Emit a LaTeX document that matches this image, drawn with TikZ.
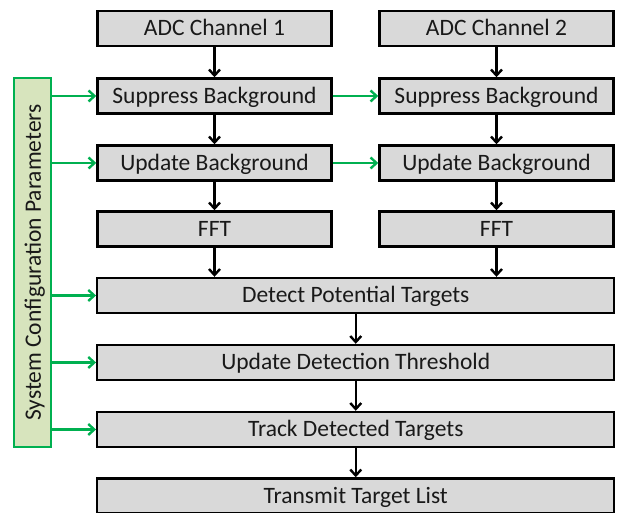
\documentclass[tikz,border=0pt]{standalone}
\usepackage{fontspec}
\setmainfont{Carlito}
\usetikzlibrary{arrows.meta}
\definecolor{boxgray}{HTML}{D9D9D9}
\definecolor{cfggreen}{HTML}{00B050}
\definecolor{cfgfill}{HTML}{D7E4BD}
\tikzset{
  x=1pt, y=1pt,
  txt/.style={font=\fontsize{23.5}{27}\selectfont, text=black!90, text height=17.4pt, text depth=2.4pt},
  proc/.style={draw=black, fill=boxgray, line width=2.4pt, rectangle, minimum height=35pt, inner sep=0pt, txt},
  narrow/.style={proc, minimum width=234pt},
  wide/.style={proc, minimum width=517pt},
  blk/.style={draw=black, line width=2.4pt, -{Straight Barb[length=6pt,width=11pt,line width=2.4pt]}},
  grn/.style={draw=cfggreen, line width=2.4pt, -{Straight Barb[length=6pt,width=11pt,line width=2.4pt]}},
}
\begin{document}
\begin{tikzpicture}
\useasboundingbox (0,0) rectangle (633,513);
\node[narrow] (adc1) at (214.5,484.5) {ADC Channel 1};
\node[narrow] (adc2) at (496.5,484.5) {ADC Channel 2};
\node[narrow] (sup1) at (214.5,417) {Suppress Background};
\node[narrow] (sup2) at (496.5,417) {Suppress Background};
\node[narrow] (upd1) at (214.5,350) {Update Background};
\node[narrow] (upd2) at (496.5,350) {Update Background};
\node[narrow] (fft1) at (214.5,284) {FFT};
\node[narrow] (fft2) at (496.5,284) {FFT};
\node[wide] (det) at (355.75,217.5) {Detect Potential Targets};
\node[wide] (thr) at (355.75,150.5) {Update Detection Threshold};
\node[wide] (trk) at (355.75,83.5) {Track Detected Targets};
\node[wide] (tx) at (355.75,17) {Transmit Target List};
\node[draw=cfggreen, fill=cfgfill, line width=2.4pt, minimum width=36.5pt, minimum height=369.5pt, inner sep=0pt] (cfg) at (32.5,250.5) {};
\node[rotate=90, txt] (cfgtxt) at ([xshift=1pt]cfg.center) {System Configuration Parameters};
% black arrows
\draw[blk] (adc1) -- (sup1);
\draw[blk] (sup1) -- (upd1);
\draw[blk] (upd1) -- (fft1);
\draw[blk] (adc2) -- (sup2);
\draw[blk] (sup2) -- (upd2);
\draw[blk] (upd2) -- (fft2);
\draw[blk] (fft1.south) -- (fft1.south |- det.north);
\draw[blk] (fft2.south) -- (fft2.south |- det.north);
\draw[blk] (det) -- (thr);
\draw[blk] (thr) -- (trk);
\draw[blk] (trk) -- (tx);
% green arrows
\draw[grn] (cfg.east |- sup1.west) -- (sup1.west);
\draw[grn] (cfg.east |- upd1.west) -- (upd1.west);
\draw[grn] (cfg.east |- det.west) -- (det.west);
\draw[grn] (cfg.east |- thr.west) -- (thr.west);
\draw[grn] (cfg.east |- trk.west) -- (trk.west);
\draw[grn] (sup1.east) -- (sup2.west);
\draw[grn] (upd1.east) -- (upd2.west);
\end{tikzpicture}
\end{document}
